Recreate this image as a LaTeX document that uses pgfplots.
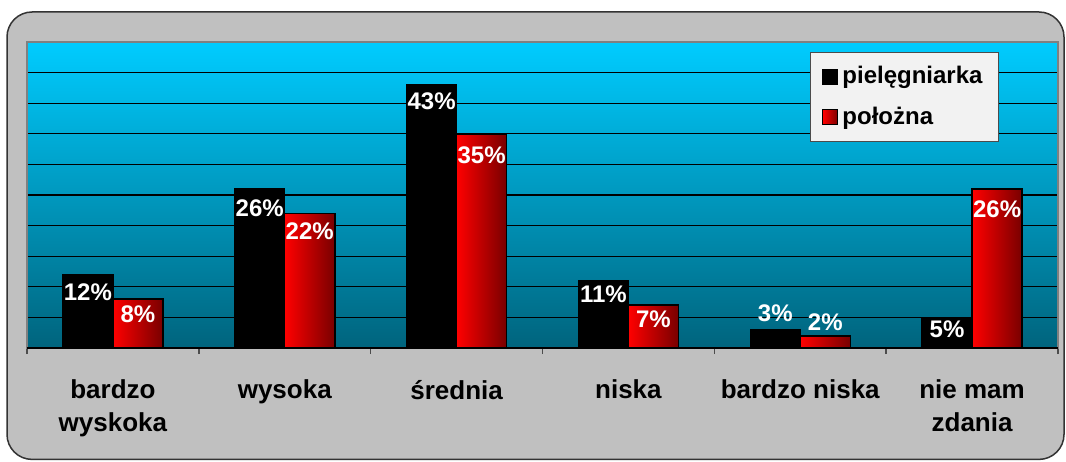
\documentclass[border=0pt]{standalone}
\usepackage{fontspec}
\setmainfont{Liberation Sans}
\usepackage{pgfplots}
\pgfplotsset{compat=1.18}
\usepackage{pgfplotstable}

\definecolor{frame}{RGB}{192,192,192}
\definecolor{bgtop}{RGB}{0,204,255}
\definecolor{bgbot}{RGB}{0,100,125}
\definecolor{barred}{RGB}{255,0,0}
\definecolor{bardark}{RGB}{120,0,0}
\definecolor{legbg}{RGB}{242,242,242}

% x, value, label shift (pt)
\pgfplotstableread{
x y off
0 12 -9
1 26 -9.5
2 43 -8
3 11 -7
4 3 8
5 5 -6
}\pielegniarka
\pgfplotstableread{
x y off
0 8 -7.5
1 22 -9
2 35 -10.5
3 7 -7
4 2 7
5 26 -10
}\polozna

\pgfplotsset{
  redbar/.style={left color=barred, right color=bardark, draw=black, line width=0.75pt},
  sqlegend/.style={legend image code/.code={\draw[##1, draw=black, line width=0.5pt] (0pt,-3.75pt) rectangle (7.5pt,3.75pt);}},
}

\begin{document}
\begin{tikzpicture}[x=1pt,y=1pt]
  \clip (0,0) rectangle (533,230.5);
  \draw[fill=frame, draw=black!80, line width=0.75pt, rounded corners=12.5pt]
    (3.5,0.8) rectangle (532,224.5);
  \begin{axis}[
    at={(13.5pt,56.5pt)}, anchor=south west,
    scale only axis, width=515.5pt, height=153pt,
    xmin=-0.5, xmax=5.5, ymin=0, ymax=50,
    ybar=0pt, bar width=25pt,
    /pgf/number format/assume math mode=true,
    axis background/.style={top color=bgtop, bottom color=bgbot},
    axis line style={draw=gray, line width=0.75pt},
    ytick={5,10,...,45}, yticklabels=\empty,
    ymajorgrids, major grid style={black, line width=0.6pt},
    xtick={0,...,5},
    xticklabels={{bardzo\\wyskoka}, wysoka, średnia, niska, bardzo niska, {nie mam\\zdania}},
    minor xtick={-0.5,0.5,...,5.5},
    xtick pos=bottom, ytick pos=left,
    tick align=outside,
    major tick length=0pt, minor tick length=3pt,
    minor tick style={draw=gray!60!black, line width=0.75pt},
    xticklabel style={align=center, font=\fontsize{13}{16.5}\selectfont\bfseries, yshift=-12.5pt},
    nodes near coords={\pgfmathprintnumber{\pgfplotspointmeta}\%},
    visualization depends on={\thisrow{off}\as\off},
    nodes near coords style={anchor=center, yshift=\off pt, text=white,
      font=\fontsize{12}{14}\selectfont\bfseries},
    legend style={at={(0.7595,0.967)}, anchor=north west, fill=legbg,
      draw=gray!60!black, font=\fontsize{12}{14}\selectfont\bfseries,
      inner xsep=6pt, inner ysep=5pt, row sep=6pt},
    legend cell align=left,
  ]
    \addplot[fill=black, draw=black, line width=0.75pt, bar shift=-12.5pt, sqlegend] table[x=x, y=y] {\pielegniarka};
    \addlegendentry{pielęgniarka}
    % one plot per red bar so that each bar gets its own shading
    \pgfplotsinvokeforeach{0,...,5}{
      \addplot[redbar, bar shift=12.5pt, forget plot,
        x filter/.expression={abs(x-#1)<0.2 ? x : nan}] table[x=x, y=y] {\polozna};
    }
    \addlegendimage{redbar, sqlegend}
    \addlegendentry{położna}
    \draw[black, line width=0.75pt] (rel axis cs:0,0) -- (rel axis cs:1,0);
  \end{axis}
\end{tikzpicture}
\end{document}
